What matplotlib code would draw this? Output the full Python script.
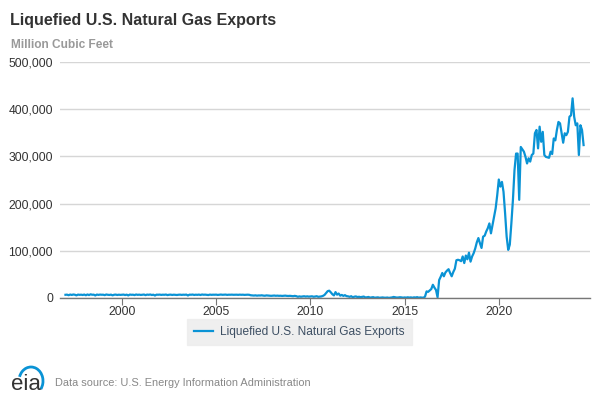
import matplotlib
matplotlib.use("Agg")
import matplotlib.pyplot as plt
from matplotlib.patches import Arc
import numpy as np

plt.rcParams['font.family'] = ['Liberation Sans', 'DejaVu Sans']

title = "Liquefied U.S. Natural Gas Exports"
y_label = "Million Cubic Feet"
series_name = "Liquefied U.S. Natural Gas Exports"
source = "Data source: U.S. Energy Information Administration"

start_year = 1997
monthly = {
    1997: [6800, 7100, 5900, 7300, 6500, 7400, 6900, 5600, 7200, 6700, 7000, 6400],
    1998: [7300, 5800, 7500, 6200, 7800, 6900, 7100, 5400, 7300, 6600, 7200, 6900],
    1999: [7000, 6100, 7400, 6800, 6500, 7100, 5700, 6900, 7200, 6400, 7000, 6600],
    2000: [6900, 7200, 6300, 7100, 5500, 7300, 6800, 7000, 6200, 7400, 6700, 7100],
    2001: [6500, 7000, 7300, 6100, 7200, 6800, 7400, 6400, 7000, 5300, 7100, 6900],
    2002: [7200, 6600, 7000, 6800, 7300, 6200, 6900, 7100, 6500, 7000, 6800, 6400],
    2003: [6900, 7100, 6600, 7000, 6800, 7200, 5400, 7100, 6900, 7300, 6500, 7000],
    2004: [6700, 7200, 6400, 7400, 6900, 7100, 6800, 6300, 7200, 6700, 7000, 6900],
    2005: [7100, 6500, 7000, 7300, 6800, 6900, 7200, 6600, 7000, 6900, 7100, 6800],
    2006: [6900, 7000, 6700, 7100, 6800, 7000, 6600, 6900, 7000, 6800, 5800, 5400],
    2007: [5200, 5600, 5000, 5400, 5300, 5700, 5100, 4800, 5500, 5200, 5000, 4600],
    2008: [4900, 5200, 4700, 5000, 4600, 4800, 4400, 4700, 5000, 4500, 4300, 4600],
    2009: [4200, 3800, 4500, 3900, 2600, 3400, 2800, 3200, 3700, 3000, 3500, 2900],
    2010: [3200, 3600, 2700, 3100, 3800, 2500, 3000, 3400, 4500, 6500, 10500, 14500],
    2011: [15500, 12000, 8000, 5500, 12500, 7000, 9500, 5000, 6500, 4500, 6000, 4000],
    2012: [3500, 2500, 3800, 1500, 2800, 3300, 2000, 2600, 1800, 2400, 3000, 1200],
    2013: [1500, 2200, 800, 1300, 1800, 600, 1000, 1400, 500, 900, 1200, 700],
    2014: [600, 1000, 300, 800, 1200, 2200, 1500, 900, 1100, 1600, 1300, 700],
    2015: [1200, 800, 1500, 900, 1300, 600, 1400, 1000, 1800, 700, 1200, 900],
    2016: [500, 3000, 14000, 13000, 16000, 19000, 28000, 22000, 17000, 1500, 38000, 45000],
    2017: [53000, 46000, 54000, 58000, 61000, 53000, 46000, 55000, 62000, 80000, 81000, 80000],
    2018: [78000, 88000, 74000, 90000, 82000, 96000, 77000, 88000, 95000, 105000, 118000, 127000],
    2019: [116000, 106000, 130000, 132000, 141000, 148000, 158000, 137000, 155000, 172000, 190000, 218000],
    2020: [251000, 236000, 246000, 225000, 180000, 130000, 102000, 113000, 158000, 208000, 271000, 306000],
    2021: [306000, 208000, 320000, 315000, 310000, 299000, 285000, 296000, 289000, 303000, 306000, 349000],
    2022: [356000, 317000, 363000, 331000, 352000, 303000, 299000, 298000, 297000, 310000, 305000, 338000],
    2023: [334000, 356000, 373000, 370000, 349000, 329000, 349000, 345000, 352000, 384000, 387000, 423000],
    2024: [384000, 366000, 370000, 303000, 366000, 356000, 324000],
}

x_ticks = [2000, 2005, 2010, 2015, 2020]
y_ticks = [0, 100000, 200000, 300000, 400000, 500000]

xs, ys = [], []
for yr in sorted(monthly):
    for i, v in enumerate(monthly[yr]):
        xs.append(yr + i / 12.0)
        ys.append(v)

fig = plt.figure(figsize=(6, 4), dpi=100)
ax = fig.add_axes([0.1, 0.255, 0.883, 0.59])

line_color = "#0a93d5"
ax.plot(xs, ys, color=line_color, lw=1.6, solid_joinstyle='round', zorder=3)

ax.set_xlim(1996.71, 2024.83)
ax.set_ylim(0, 500000)
ax.set_yticks(y_ticks)
ax.set_yticklabels([f"{v:,}" for v in y_ticks])
ax.set_xticks(x_ticks)
ax.set_xticklabels([str(t) for t in x_ticks])

ax.grid(axis='y', color='#d6d6d6', lw=1.0, zorder=0)
ax.set_axisbelow(True)
for s in ['left', 'right', 'top']:
    ax.spines[s].set_visible(False)
ax.spines['bottom'].set_color('#777777')
ax.spines['bottom'].set_linewidth(1.0)
ax.spines['bottom'].set_zorder(4)

ax.tick_params(axis='y', length=0, pad=5, labelsize=8.7, labelcolor='#333333')
ax.tick_params(axis='x', length=5, width=0.8, color='#777777', pad=1,
               labelsize=8.7, labelcolor='#333333')

fig.text(10 / 600, 1 - 20 / 400, title, fontsize=11.5, fontweight='bold',
         color='#333333', va='center', ha='left')
fig.text(11 / 600, 1 - 45 / 400, y_label, fontsize=8.6, fontweight='bold',
         color='#999999', va='center', ha='left')

leg = ax.legend([series_name], loc='center', bbox_to_anchor=(299.5 / 600, 1 - 332 / 400),
                bbox_transform=fig.transFigure, frameon=True, fontsize=8.6,
                handlelength=1.6, handletextpad=0.6, borderpad=0.6)
leg.get_frame().set_facecolor('#ececec')
leg.get_frame().set_edgecolor('#ececec')
leg.get_frame().set_boxstyle('square', pad=0)
for t in leg.get_texts():
    t.set_color('#3d4f63')

# footer
fig.text(11 / 600, 1 - 384 / 400, "eia", fontsize=16, color='#333333',
         va='center', ha='left')
arc_ax = fig.add_axes([0, 0, 1, 1], facecolor='none')
arc_ax.set_xlim(0, 600)
arc_ax.set_ylim(0, 400)
arc_ax.axis('off')
arc_ax.add_patch(Arc((31, 400 - 381), 24, 28, theta1=-40, theta2=160,
                     color=line_color, lw=2.0))
fig.text(55 / 600, 1 - 383 / 400, source, fontsize=7.9, color='#888888',
         va='center', ha='left')

fig.savefig("out.png", dpi=100)
